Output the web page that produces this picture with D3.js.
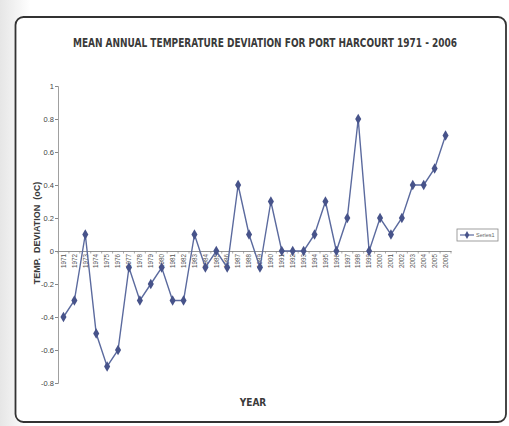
<!DOCTYPE html>
<html><head><meta charset="utf-8">
<script src="https://cdn.jsdelivr.net/npm/d3@7"></script>
<style>html,body{margin:0;padding:0;background:#fff;}svg{display:block;}</style>
</head><body>
<svg id="c" width="509" height="426"></svg>
<script>
const years = ["1971","1972","1973","1974","1975","1976","1977","1978","1979","1980","1981","1982","1983","1984","1985","1986","1987","1988","1989","1990","1991","1992","1993","1994","1995","1996","1997","1998","1999","2000","2001","2002","2003","2004","2005","2006"];
const deviations = [-0.4,-0.3,0.1,-0.5,-0.7,-0.6,-0.1,-0.3,-0.2,-0.1,-0.3,-0.3,0.1,-0.1,0,-0.1,0.4,0.1,-0.1,0.3,0,0,0,0.1,0.3,0,0.2,0.8,0,0.2,0.1,0.2,0.4,0.4,0.5,0.7];
const yTicks = [1,0.8,0.6,0.4,0.2,0,-0.2,-0.4,-0.6,-0.8];
const seriesName = "Series1";
const title = "MEAN ANNUAL TEMPERATURE DEVIATION FOR PORT HARCOURT 1971 - 2006";

const svg = d3.select("#c");
const defs = svg.append("defs");
const g1 = defs.append("linearGradient").attr("id","shade").attr("x1","0").attr("x2","1").attr("y1","0").attr("y2","0");
g1.append("stop").attr("offset","0").attr("stop-color","#e6e6e6");
g1.append("stop").attr("offset","0.06").attr("stop-color","#ffffff");
svg.append("rect").attr("width",509).attr("height",426).attr("fill","url(#shade)");

// frame
svg.append("rect").attr("x",15.5).attr("y",17).attr("width",490.5).attr("height",405)
  .attr("rx",8).attr("fill","#fff").attr("stroke","#333").attr("stroke-width",1.8);

const x = d3.scaleBand().domain(years).range([58,451]);
const y = d3.scaleLinear().domain([-0.8,1]).range([383,86]);

// title (horizontally condensed)
svg.append("text").attr("transform","translate(265,47) scale(0.8,1)").attr("text-anchor","middle")
  .attr("font-family","'DejaVu Sans Condensed','Liberation Sans',sans-serif")
  .attr("font-size",12.5).attr("font-weight","bold").attr("fill","#3a3a3a").text(title);

// y axis
const yAxis = d3.axisLeft(y).tickValues(yTicks).tickSize(3).tickFormat(d => String(+d.toFixed(1)));
const ga = svg.append("g").attr("transform","translate(58,0)").call(yAxis);
ga.select(".domain").attr("stroke","#888").attr("stroke-width",0.8);
ga.selectAll(".tick line").attr("stroke","#888");
ga.selectAll(".tick text").attr("font-family","'Liberation Sans',Arial,sans-serif").attr("font-size",7.5).attr("fill","#444").attr("x",-4);

// x axis at y=0
const xAxis = d3.axisBottom(x).tickSize(0).tickSizeOuter(0);
const gx = svg.append("g").attr("transform",`translate(0,${y(0)})`).call(xAxis);
gx.select(".domain").attr("stroke","#777").attr("stroke-width",0.8);
gx.selectAll(".tick text").attr("font-family","'Liberation Sans',Arial,sans-serif").attr("font-size",6.3).attr("fill","#555")
  .attr("transform","rotate(-90)").attr("text-anchor","end").attr("x",-3).attr("y",0).attr("dy","0.35em");
// band boundary ticks
svg.append("g").selectAll("line").data(years.concat(["end"])).join("line")
  .attr("x1",(d,i)=> i<years.length ? x(d) : x.range()[1]).attr("x2",(d,i)=> i<years.length ? x(d) : x.range()[1])
  .attr("y1",y(0)).attr("y2",y(0)+2.5).attr("stroke","#888").attr("stroke-width",0.7);

// line
const line = d3.line().x((d,i)=>x(years[i])+x.bandwidth()/2).y(d=>y(d));
svg.append("path").datum(deviations).attr("d",line).attr("fill","none").attr("stroke","#5b6a9e").attr("stroke-width",1.4);
const diamond = d3.symbol().type(d3.symbolDiamond).size(32);
svg.append("g").selectAll("path").data(deviations).join("path")
  .attr("d",diamond).attr("transform",(d,i)=>`translate(${x(years[i])+x.bandwidth()/2},${y(d)})`)
  .attr("fill","#47538a");

// axis labels
svg.append("text").attr("transform","translate(40,233) rotate(-90)").attr("text-anchor","middle")
  .attr("font-family","'Liberation Sans','DejaVu Sans',sans-serif").attr("font-size",9).attr("font-weight","bold").attr("fill","#3a3a3a")
  .attr("xml:space","preserve").text("TEMP.  DEVIATION  (oC)");
svg.append("text").attr("x",253).attr("y",406).attr("text-anchor","middle")
  .attr("font-family","'DejaVu Sans Condensed','Liberation Sans',sans-serif").attr("font-size",10).attr("font-weight","bold").attr("fill","#3a3a3a").text("YEAR");

// legend
const lg = svg.append("g").attr("transform","translate(457,229)");
lg.append("rect").attr("width",41).attr("height",12).attr("fill","#fff").attr("stroke","#888").attr("stroke-width",0.8);
lg.append("line").attr("x1",3).attr("x2",17).attr("y1",6).attr("y2",6).attr("stroke","#5b6a9e").attr("stroke-width",1.2);
lg.append("path").attr("d",d3.symbol().type(d3.symbolDiamond).size(18)).attr("transform","translate(10,6)").attr("fill","#47538a");
lg.append("text").attr("x",19).attr("y",8.3).attr("font-family","'Liberation Sans',Arial,sans-serif").attr("font-size",5.5).attr("fill","#666").text(seriesName);
</script>
</body></html>
